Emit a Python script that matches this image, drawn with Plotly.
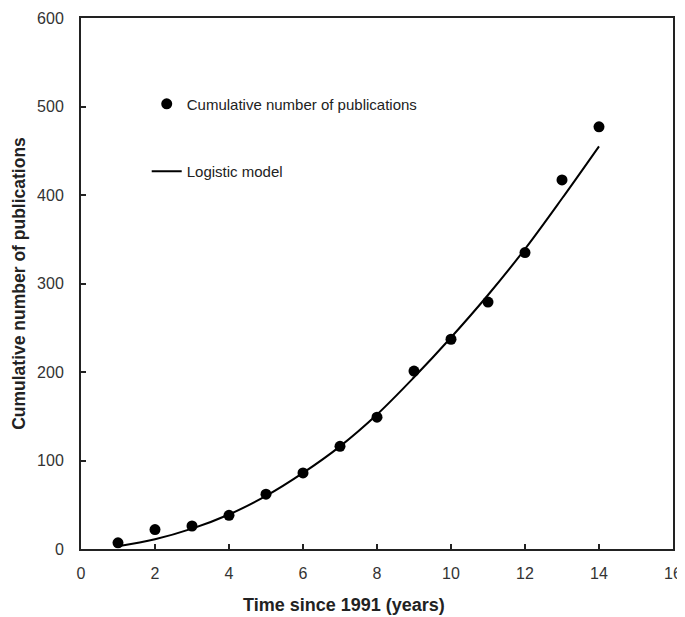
import plotly.graph_objects as go

years = [1, 2, 3, 4, 5, 6, 7, 8, 9, 10, 11, 12, 13, 14]
publications = [7, 22, 26, 38, 62, 86, 116, 149, 201, 237, 279, 335, 417, 477]
model = [3, 11, 23, 39, 60, 86, 116, 152, 194, 239, 287, 339, 396, 455]

x_ticks = [0, 2, 4, 6, 8, 10, 12, 14, 16]
y_ticks = [0, 100, 200, 300, 400, 500, 600]

FONT = "Liberation Sans, Arial, sans-serif"

fig = go.Figure()
fig.add_trace(go.Scatter(
    x=years, y=publications, mode="markers", name="Cumulative number of publications",
    marker=dict(color="black", size=11), legendgroup="a"))
fig.add_trace(go.Scatter(
    x=years, y=model, mode="lines", name="Logistic model",
    line=dict(color="black", width=2, shape="spline"), legendgroup="b"))

axis_common = dict(
    showline=True, linecolor="#222", linewidth=2, mirror=True,
    ticks="inside", ticklen=5, tickwidth=1.5, tickcolor="#222",
    showgrid=False, zeroline=False, automargin=False,
    tickfont=dict(family=FONT, size=16, color="#333"),
)

fig.update_layout(
    width=685, height=617,
    margin=dict(l=73, r=20, t=10, b=76),
    plot_bgcolor="white", paper_bgcolor="white",
    font=dict(family=FONT, color="#222"),
    xaxis=dict(range=[0, 16], tickvals=x_ticks, ticktext=[str(v) for v in x_ticks],
               ticklabelstandoff=9,
               **axis_common),
    yaxis=dict(range=[0, 600], tickvals=y_ticks, ticktext=[str(v) for v in y_ticks],
               ticklabelstandoff=12,
               title=dict(text="<b>Cumulative number of publications</b>", font=dict(family=FONT, size=17.5, color="#222"), standoff=7),
               **axis_common),
    showlegend=True,
    legend=dict(x=0.111, y=0.869, xanchor="left", yanchor="top",
                bgcolor="rgba(0,0,0,0)", borderwidth=0,
                font=dict(family=FONT, size=15, color="#222"),
                tracegroupgap=45, itemwidth=30),
    annotations=[dict(
        text="<b>Time since 1991 (years)</b>", xref="paper", yref="paper",
        x=0.444, y=-0.1056, xanchor="center", yanchor="middle", showarrow=False,
        font=dict(family=FONT, size=18, color="#222"))],
)

fig.write_html("out.html")
